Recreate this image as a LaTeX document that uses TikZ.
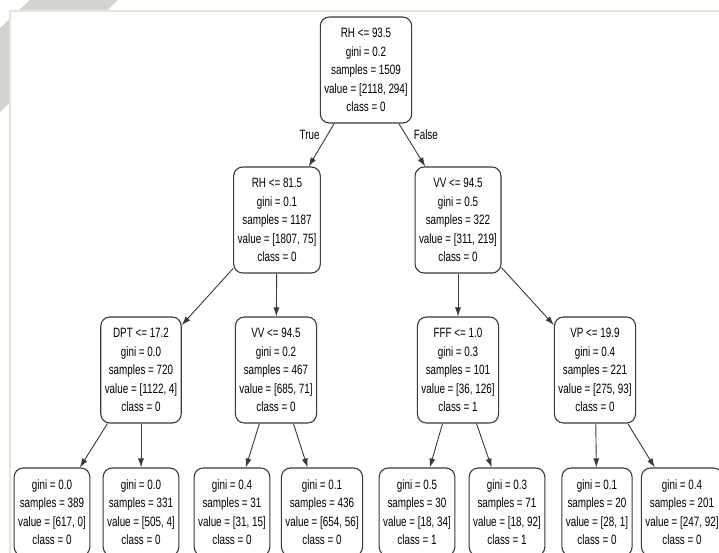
\documentclass[tikz,border=0pt]{standalone}
\usepackage{fontspec}
\setmainfont{Liberation Sans}[FakeStretch=0.73]
\usepackage{xcolor}
\usetikzlibrary{arrows.meta,positioning}

\definecolor{edgegray}{HTML}{3A3A3A}
\definecolor{framecream}{HTML}{E4E6D2}
\definecolor{stripegray}{HTML}{D3D3D3}

\begin{document}
\begin{tikzpicture}[
    x=1pt, y=-1pt,
    node distance=150pt,
    split/.style={draw=edgegray, line width=1.1pt, rounded corners=9pt, align=center,
        inner xsep=4pt, minimum height=106pt, font=\fontsize{13.5}{18.5}\selectfont},
    leaf/.style={split, minimum height=88pt, yshift=8pt},
    edge/.style={draw=edgegray, line width=0.9pt, -{Latex[length=9pt,width=6pt]}}
]
    \useasboundingbox (0,0) rectangle (719,552);
    % scan background
    \fill[white] (0,0) rectangle (719,552);
    \fill[stripegray] (30,0) -- (118,0) -- (0,112) -- (0,28) -- cycle;
    \filldraw[fill=white, draw=framecream, line width=1.2pt] (10,11) rectangle (730,560);

    \node[split] (root) at (366,70) {RH <= 93.5\\gini = 0.2\\samples = 1509\\value = [2118, 294]\\class = 0};

    \node[split, below of=root, xshift=-89pt] (rhlow) {RH <= 81.5\\gini = 0.1\\samples = 1187\\value = [1807, 75]\\class = 0};
    \node[split, below of=root, xshift=92pt] (vvhigh) {VV <= 94.5\\gini = 0.5\\samples = 322\\value = [311, 219]\\class = 0};

    \node[split, below of=rhlow, xshift=-136pt] (dpt) {DPT <= 17.2\\gini = 0.0\\samples = 720\\value = [1122, 4]\\class = 0};
    \node[split, below of=rhlow, xshift=-1pt] (vvlow) {VV <= 94.5\\gini = 0.2\\samples = 467\\value = [685, 71]\\class = 0};
    \node[split, below of=vvhigh] (fff) {FFF <= 1.0\\gini = 0.3\\samples = 101\\value = [36, 126]\\class = 1};
    \node[split, below of=vvhigh, xshift=137pt] (vp) {VP <= 19.9\\gini = 0.4\\samples = 221\\value = [275, 93]\\class = 0};

    \node[leaf, below of=dpt, xshift=-89pt] (leafa) {gini = 0.0\\samples = 389\\value = [617, 0]\\class = 0};
    \node[leaf, below of=dpt] (leafb) {gini = 0.0\\samples = 331\\value = [505, 4]\\class = 0};
    \node[leaf, below of=vvlow, xshift=-44pt] (leafc) {gini = 0.4\\samples = 31\\value = [31, 15]\\class = 0};
    \node[leaf, below of=vvlow, xshift=46pt] (leafd) {gini = 0.1\\samples = 436\\value = [654, 56]\\class = 0};
    \node[leaf, below of=fff, xshift=-41pt] (leafe) {gini = 0.5\\samples = 30\\value = [18, 34]\\class = 1};
    \node[leaf, below of=fff, xshift=49pt] (leaff) {gini = 0.3\\samples = 71\\value = [18, 92]\\class = 1};
    \node[leaf, below of=vp, xshift=2pt] (leafg) {gini = 0.1\\samples = 20\\value = [28, 1]\\class = 0};
    \node[leaf, below of=vp, xshift=87pt] (leafh) {gini = 0.4\\samples = 201\\value = [247, 92]\\class = 0};

    \draw[edge] (root) -- node[pos=0.27, left=4pt, font=\fontsize{13.5}{15}\selectfont] {True} (rhlow);
    \draw[edge] (root) -- node[pos=0.27, right=4pt, font=\fontsize{13.5}{15}\selectfont] {False} (vvhigh);
    \draw[edge] (rhlow) -- (dpt);
    \draw[edge] (rhlow) -- (vvlow);
    \draw[edge] (vvhigh) -- (fff);
    \draw[edge] (vvhigh) -- (vp);
    \draw[edge] (dpt) -- (leafa);
    \draw[edge] (dpt) -- (leafb);
    \draw[edge] (vvlow) -- (leafc);
    \draw[edge] (vvlow) -- (leafd);
    \draw[edge] (fff) -- (leafe);
    \draw[edge] (fff) -- (leaff);
    \draw[edge] (vp) -- (leafg);
    \draw[edge] (vp) -- (leafh);
\end{tikzpicture}
\end{document}
